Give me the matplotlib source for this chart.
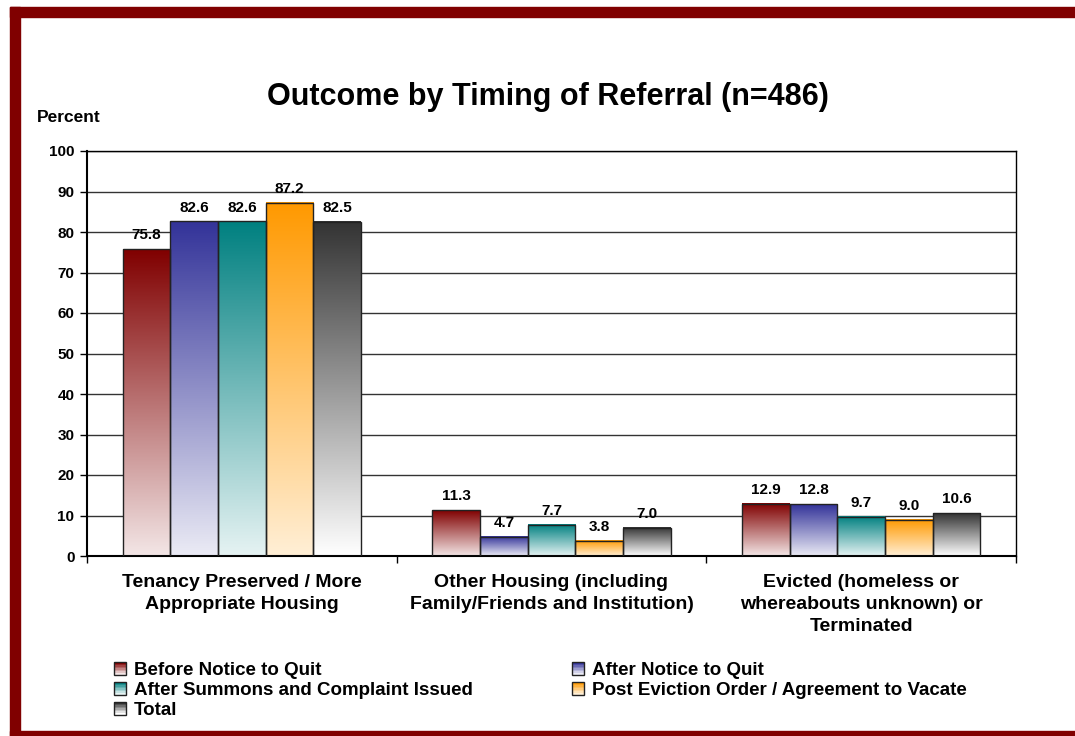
import matplotlib
matplotlib.use("Agg")
import matplotlib.pyplot as plt
import numpy as np
from matplotlib.colors import LinearSegmentedColormap, to_rgb
from matplotlib.patches import Rectangle
from matplotlib.legend_handler import HandlerBase

plt.rcParams['font.family'] = ['Liberation Sans', 'DejaVu Sans']
plt.rcParams['font.weight'] = 'bold'

categories = ["Tenancy Preserved / More\nAppropriate Housing",
              "Other Housing (including\nFamily/Friends and Institution)",
              "Evicted (homeless or\nwhereabouts unknown) or\nTerminated"]
series = ["Before Notice to Quit", "After Notice to Quit",
          "After Summons and Complaint Issued",
          "Post Eviction Order / Agreement to Vacate", "Total"]
before_ntq = [75.8, 11.3, 12.9]
after_ntq = [82.6, 4.7, 12.8]
after_summons = [82.6, 7.7, 9.7]
post_order = [87.2, 3.8, 9.0]
total = [82.5, 7.0, 10.6]
values = [before_ntq, after_ntq, after_summons, post_order, total]

top_colors = ["#800000", "#333399", "#008080", "#FF9900", "#333333"]
bottom_colors = ["#F3E6E6", "#EBEBF5", "#E6F3F3", "#FFEFD6", "#FFFFFF"]

fig = plt.figure(figsize=(10.75, 7.36), dpi=100)
ax = fig.add_axes([87 / 1075, 1 - 556 / 736, (1016 - 87) / 1075, (556 - 151) / 736])

# dark red frame
frame_col = "#800000"
fig.patches.append(Rectangle((10 / 1075, 0), 10 / 1075, 1 - 7 / 736, transform=fig.transFigure,
                             color=frame_col, zorder=0))
fig.patches.append(Rectangle((10 / 1075, 1 - 17 / 736), 1, 10 / 736, transform=fig.transFigure,
                             color=frame_col, zorder=0))
fig.patches.append(Rectangle((10 / 1075, 0), 1, 5 / 736, transform=fig.transFigure,
                             color=frame_col, zorder=0))

n = len(series)
gap = 1.5
width = 1.0 / (n + gap)
x = np.arange(len(categories))
grad = np.linspace(1, 0, 256).reshape(-1, 1)

for i, vals in enumerate(values):
    cmap = LinearSegmentedColormap.from_list("g%d" % i, [bottom_colors[i], top_colors[i]])
    for j, v in enumerate(vals):
        x0 = x[j] - 0.5 + (gap / 2 + i) * width
        ax.imshow(grad, extent=(x0, x0 + width, 0, v), aspect='auto', cmap=cmap,
                  vmin=0, vmax=1, zorder=2, interpolation='bilinear')
        ax.add_patch(Rectangle((x0, 0), width, v, fill=False, edgecolor='#222222',
                               linewidth=1.0, zorder=3))
        ax.annotate("%.1f" % v, (x0 + width / 2, v), xytext=(0, 5), textcoords='offset points',
                    ha='center', va='bottom', fontsize=11, fontweight='bold')

ax.set_xlim(-0.5, 2.5)
ax.set_ylim(0, 100)
ax.set_yticks(range(0, 101, 10))
ax.tick_params(axis='y', direction='out', length=5, width=1, labelsize=11, pad=4)
ax.set_xticks(x)
ax.set_xticklabels(categories, fontsize=14, fontweight='bold', linespacing=1.38)
ax.tick_params(axis='x', which='major', length=0, pad=13)
ax.set_xticks([-0.5, 0.5, 1.5, 2.5], minor=True)
ax.tick_params(axis='x', which='minor', direction='out', length=5, width=1)
for lab in ax.get_yticklabels():
    lab.set_fontweight('bold')
ax.grid(axis='y', color='#333333', linewidth=1.0, zorder=1)
ax.set_axisbelow(True)
for s in ax.spines.values():
    s.set_color('black')
    s.set_linewidth(1.0)
ax.spines['left'].set_linewidth(1.5)
ax.spines['bottom'].set_linewidth(1.5)

fig.text(548 / 1075, 1 - 97 / 736, "Outcome by Timing of Referral (n=486)", ha='center',
         va='center', fontsize=22, fontweight='bold')
fig.text(37 / 1075, 1 - 118 / 736, "Percent", ha='left', va='center', fontsize=12.5,
         fontweight='bold')


class GradHandler(HandlerBase):
    def __init__(self, top, bottom):
        super().__init__()
        self.top = to_rgb(top)
        self.bottom = to_rgb(bottom)

    def create_artists(self, legend, orig_handle, xdescent, ydescent, width, height,
                       fontsize, trans):
        size = min(width, height)
        x0 = -xdescent + (width - size)
        y0 = -ydescent + (height - size) / 2
        arts = []
        steps = 8
        for k in range(steps):
            t = k / (steps - 1)
            c = tuple(self.bottom[m] * (1 - t) + self.top[m] * t for m in range(3))
            arts.append(Rectangle((x0, y0 + size * k / steps), size, size / steps,
                                  facecolor=c, edgecolor='none', transform=trans))
        arts.append(Rectangle((x0, y0), size, size, fill=False, edgecolor='#222222',
                              linewidth=1.0, transform=trans))
        return arts


handles = [Rectangle((0, 0), 1, 1) for _ in series]
hmap = {h: GradHandler(top_colors[i], bottom_colors[i]) for i, h in enumerate(handles)}
leg_kw = dict(handler_map=hmap, loc='upper left', frameon=False,
              prop={'size': 13.5, 'weight': 'bold'}, handlelength=0.65, handleheight=0.65,
              handletextpad=0.4, labelspacing=0.16, borderpad=0, borderaxespad=0)
leg1 = fig.legend([handles[k] for k in (0, 2, 4)], [series[k] for k in (0, 2, 4)],
                  bbox_to_anchor=(114 / 1075, 1 - 662 / 736), **leg_kw)
leg2 = fig.legend([handles[k] for k in (1, 3)], [series[k] for k in (1, 3)],
                  bbox_to_anchor=(572 / 1075, 1 - 662 / 736), **leg_kw)

fig.savefig("out.png", dpi=100)
